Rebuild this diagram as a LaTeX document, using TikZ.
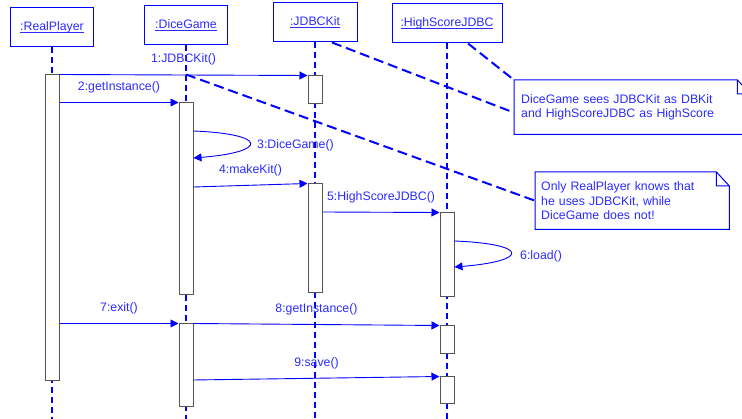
\documentclass[tikz,border=0pt]{standalone}
\usepackage{fontspec}
\setmainfont{Liberation Sans}
\usetikzlibrary{arrows.meta,calc}
\definecolor{uml}{HTML}{0000FF}
\definecolor{umltext}{HTML}{2B2BFF}
\definecolor{barline}{HTML}{555555}
\newcommand{\objname}[1]{\underline{\raisebox{0pt}[\height][0pt]{#1}}}

\begin{document}
\begin{tikzpicture}[x=1pt,y=-1pt,font=\fontsize{12.3}{14.5}\selectfont,
  head/.style={draw=uml,line width=1pt,text=umltext,minimum height=39pt,inner sep=0pt},
  life/.style={uml,line width=1.6pt,dash pattern=on 6pt off 4pt},
  act/.style={draw=barline,fill=white,line width=1pt,minimum width=14pt,inner sep=0pt},
  msg/.style={uml,line width=0.9pt,-{Triangle[length=8pt,width=8pt]}},
  lbl/.style={text=umltext,inner sep=2pt},
  notelink/.style={uml,line width=2pt,dash pattern=on 10pt off 5pt},
  notetext/.style={text=umltext,align=left,anchor=north west,inner ysep=0pt}]
  \clip (0,0) rectangle (742,419);
  \foreach \n/\x/\y/\w/\t in {rp/52/27.5/83/RealPlayer,dg/186/25/83/DiceGame,kit/315/22.5/84/JDBCKit,hs/447/23.5/110/HighScoreJDBC}
    {\node[head,minimum width=\w] (\n) at (\x,\y) {\objname{:\t}}; \draw[life] (\n.south) -- (\n.south |- 0,419);}
  \foreach \n/\x/\a/\b in {rpbar/52/75/381,dgbar1/186/103/295,dgbar2/186/324/407,kitbar1/315/76/104,kitbar2/315/184/293,hsbar1/447/213/297,hsbar2/447/326/354,hsbar3/447/377/404}
    \node[act,minimum height={\b-\a}] (\n) at (\x,{(\a+\b)/2}) {};
  % messages
  \draw[msg] (rpbar.north east) -- (kitbar1.north west) node[lbl,midway,above=7pt] (m1) {1:JDBCKit()};
  \draw[msg] (rpbar.east |- dgbar1.north) -- (dgbar1.north west) node[lbl,midway,above=7pt] (m2) {2:getInstance()};
  \draw[msg] (dgbar1.east |- 0,131) .. controls +(75,3) and +(75,-6) .. (dgbar1.east |- 0,158);
  \node[lbl,anchor=west] (m3) at (255,145) {3:DiceGame()};
  \draw[msg] (dgbar1.east |- 0,187) -- (kitbar2.north west) node[lbl,midway,above=7pt] (m4) {4:makeKit()};
  \draw[msg] (kitbar2.east |- 0,212) -- (hsbar1.north west) node[lbl,midway,above=7pt] (m5) {5:HighScoreJDBC()};
  \draw[msg] (hsbar1.east |- 0,241) .. controls +(75,3) and +(75,-6) .. (hsbar1.east |- 0,267);
  \node[lbl,anchor=west] (m6) at (518,256) {6:load()};
  \draw[msg] (rpbar.east |- dgbar2.north) -- (dgbar2.north west) node[lbl,midway,above=7pt] (m7) {7:exit()};
  \draw[msg] (dgbar2.north east) -- (hsbar2.north west) node[lbl,midway,above=7pt] (m8) {8:getInstance()};
  \draw[msg] (dgbar2.east |- 0,380) -- (hsbar3.north west) node[lbl,midway,above=7pt] (m9) {9:save()};
  % notes
  \node[notetext,inner xsep=7pt,text width=222pt,minimum height=54pt] (note1) at (514,80) {DiceGame sees JDBCKit as DBKit\\and HighScoreJDBC as HighScore};
  \node[notetext,inner xsep=6pt,text width=182pt,minimum height=57pt] (note2) at (535,172) {Only RealPlayer knows that\\he uses JDBCKit, while\\DiceGame does not!};
  \foreach \n in {note1,note2}
    \draw[uml,line width=1pt] (\n.north west) -- ([xshift=-13pt]\n.north east) -- ([yshift=-14pt]\n.north east) -- (\n.south east) -- (\n.south west) -- cycle
      ([xshift=-13pt]\n.north east) |- ([yshift=-14pt]\n.north east);
  \draw[notelink] ($(kit.south west)!0.7!(kit.south east)$) -- ($(note1.north west)!0.6!(note1.south west)$);
  \draw[notelink] ($(hs.south west)!0.69!(hs.south east)$) -- (note1.north west);
  \draw[notelink] (dg |- rpbar.north) -- (note2.west);
\end{tikzpicture}
\end{document}
